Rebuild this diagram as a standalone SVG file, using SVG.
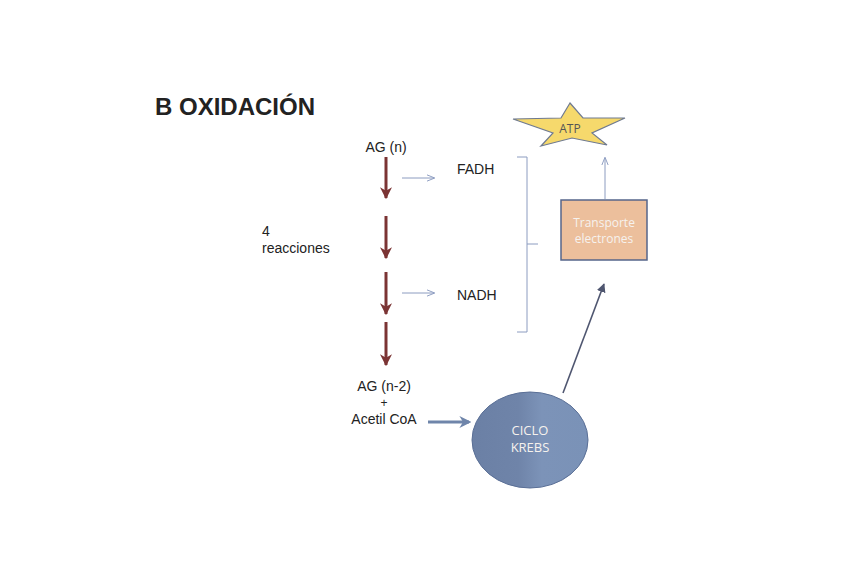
<svg xmlns="http://www.w3.org/2000/svg" width="848" height="579" viewBox="0 0 848 579">
<style>
.t{font-family:"Liberation Sans",Arial,sans-serif;fill:#222;font-size:14px}
.w{font-family:"Open Sans","Liberation Sans",sans-serif;fill:#f6f2ee;font-size:12px;text-anchor:middle}
.red{stroke:#7b3434;stroke-width:3;fill:none}
.thin{stroke:#8c9cc0;stroke-width:1;fill:none}
</style>
<defs>
<marker id="mr" viewBox="0 0 10 10" refX="9" refY="5" markerWidth="4" markerHeight="4" orient="auto" markerUnits="strokeWidth"><path d="M0,0 L10,5 L0,10 L3,5 z" fill="#7b3434"/></marker>
<marker id="mt" viewBox="0 0 10 10" refX="9" refY="5" markerWidth="8" markerHeight="8" orient="auto" markerUnits="userSpaceOnUse"><path d="M0,1 L10,5 L0,9" fill="none" stroke="#8c9cc0" stroke-width="1.2"/></marker>
<marker id="md" viewBox="0 0 10 10" refX="9" refY="5" markerWidth="9" markerHeight="9" orient="auto" markerUnits="userSpaceOnUse"><path d="M0,0 L10,5 L0,10 z" fill="#4f5670"/></marker>
<marker id="mb" viewBox="0 0 10 10" refX="8" refY="5" markerWidth="4" markerHeight="4" orient="auto" markerUnits="strokeWidth"><path d="M0,0 L10,5 L0,10 L3,5 z" fill="#6f85aa"/></marker>
<linearGradient id="gk" x1="0" y1="0" x2="1" y2="0"><stop offset="0" stop-color="#6b80a5"/><stop offset="0.4" stop-color="#6f84a9"/><stop offset="0.6" stop-color="#7c93b8"/><stop offset="1" stop-color="#7a92b7"/></linearGradient>
</defs>
<rect width="848" height="579" fill="#fff"/>
<text class="t" x="155" y="115" style="font-size:24px;font-weight:bold">B OXIDACIÓN</text>
<g id="connectors">
<line class="red" x1="386" y1="157" x2="386" y2="198" marker-end="url(#mr)"/>
<line class="red" x1="386" y1="216" x2="386" y2="258" marker-end="url(#mr)"/>
<line class="red" x1="386" y1="272" x2="386" y2="314" marker-end="url(#mr)"/>
<line class="red" x1="386" y1="322" x2="386" y2="365" marker-end="url(#mr)"/>
<line class="thin" x1="402" y1="178" x2="434" y2="178" marker-end="url(#mt)"/>
<line class="thin" x1="402" y1="293" x2="434" y2="293" marker-end="url(#mt)"/>
<path class="thin" d="M517,157 H527 V244 L538,244 M527,244 V332 H517" stroke="#7f8db0"/>
<line class="thin" x1="605" y1="199" x2="605" y2="158" marker-end="url(#mt)"/>
<line x1="563" y1="393" x2="604" y2="284" stroke="#4f5670" stroke-width="1.6" marker-end="url(#md)"/>
<line x1="428" y1="422" x2="469" y2="422" stroke="#6f85aa" stroke-width="3" marker-end="url(#mb)"/>
</g>
<g id="ag-n"><text class="t" x="386" y="152" text-anchor="middle">AG (n)</text></g>
<g id="fadh"><text class="t" x="457" y="174">FADH</text></g>
<g id="nadh"><text class="t" x="457" y="300">NADH</text></g>
<g id="reacciones"><text class="t" x="262" y="236">4</text><text class="t" x="262" y="253">reacciones</text></g>
<g id="ag-n2"><text class="t" x="384" y="391" text-anchor="middle">AG (n-2)</text><text class="t" x="384" y="407" text-anchor="middle" style="font-size:12px">+</text><text class="t" x="384" y="424" text-anchor="middle">Acetil CoA</text></g>
<g id="atp">
<polygon points="570,103 583,118 625,118 592,133 607,145 572,138 541,146 553,133 513,119 561,118" fill="#f6d96c" stroke="#6f7a90" stroke-width="1.2"/>
<text x="570" y="133" text-anchor="middle" style="font-family:'Open Sans','Liberation Sans',sans-serif;font-size:12px;fill:#555">ATP</text>
</g>
<g id="transporte">
<rect x="561" y="200" width="86" height="60" fill="#ecbf9c" stroke="#56658a" stroke-width="1.5"/>
<text class="w" x="604" y="227">Transporte</text>
<text class="w" x="604" y="243">electrones</text>
</g>
<g id="krebs">
<ellipse cx="530" cy="440" rx="58" ry="48" fill="url(#gk)" stroke="#5a6f96" stroke-width="1"/>
<text class="w" x="530" y="435" style="font-size:13px">CICLO</text>
<text class="w" x="530" y="452" style="font-size:13px">KREBS</text>
</g>
</svg>
